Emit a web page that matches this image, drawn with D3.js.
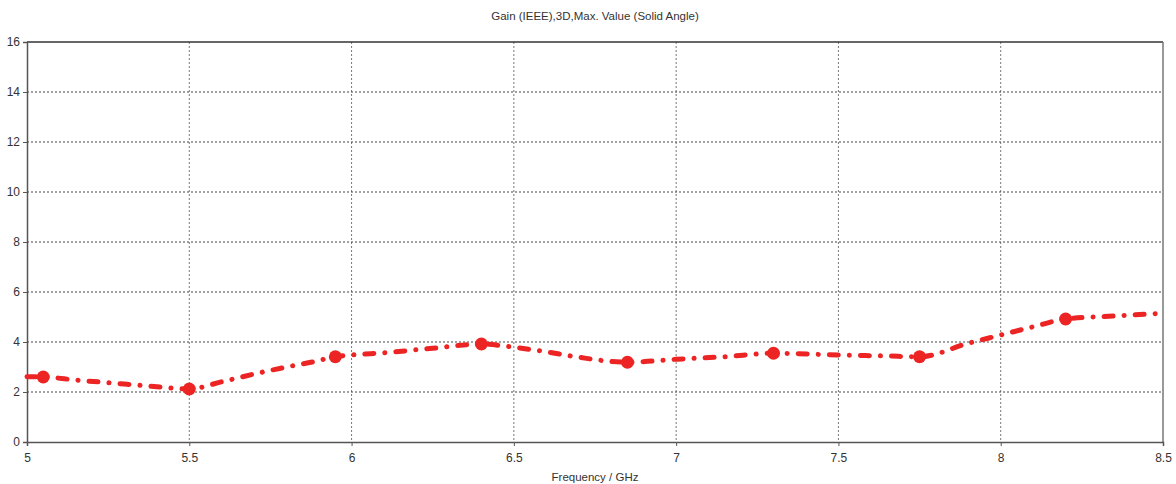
<!DOCTYPE html>
<html lang="en">
<head>
  <meta charset="UTF-8">
  <title>Gain (IEEE),3D,Max. Value (Solid Angle)</title>
  <style>
    body { margin: 0; background: #fff; }
    svg text { font-family: "Liberation Sans", Tahoma, sans-serif; fill: #333; }
  </style>
</head>
<body>
  <div id="chart"></div>

  <script src="https://d3js.org/d3.v7.min.js"></script>
  <script>
    // curve samples
    const freq = [5.0, 5.05, 5.15, 5.3, 5.4, 5.5, 5.6, 5.7, 5.8, 5.88, 5.95, 6.0, 6.1, 6.25, 6.4,
                  6.5, 6.6, 6.7, 6.85, 7.0, 7.15, 7.3, 7.5, 7.65, 7.75, 7.9, 8.0, 8.1, 8.2, 8.35, 8.5];
    const gain = [2.61, 2.6, 2.48, 2.32, 2.21, 2.12, 2.41, 2.72, 3.0, 3.2, 3.41, 3.48, 3.57, 3.75, 3.92,
                  3.79, 3.61, 3.39, 3.19, 3.31, 3.41, 3.55, 3.48, 3.44, 3.41, 3.95, 4.28, 4.61, 4.92, 5.04, 5.15];
    // marker positions
    const markFreq = [5.05, 5.5, 5.95, 6.4, 6.85, 7.3, 7.75, 8.2];
    const markGain = [2.6, 2.12, 3.41, 3.92, 3.19, 3.55, 3.41, 4.92];

    const xTicks = [5, 5.5, 6, 6.5, 7, 7.5, 8, 8.5];
    const yTicks = [0, 2, 4, 6, 8, 10, 12, 14, 16];

    const width = 1176, height = 484;
    const margin = { top: 42, right: 13, bottom: 42, left: 27 };

    const svg = d3.select('#chart').append('svg')
      .attr('width', width)
      .attr('height', height);

    const x = d3.scaleLinear().domain([5, 8.5]).range([margin.left, width - margin.right]);
    const y = d3.scaleLinear().domain([0, 16]).range([height - margin.bottom, margin.top]);

    // grid
    svg.append('g')
      .selectAll('line')
      .data(xTicks.slice(1, -1))
      .join('line')
      .attr('x1', d => x(d)).attr('x2', d => x(d))
      .attr('y1', y(16)).attr('y2', y(0))
      .attr('stroke', '#777').attr('stroke-width', 1).attr('stroke-dasharray', '2,2');

    svg.append('g')
      .selectAll('line')
      .data(yTicks.slice(1, -1))
      .join('line')
      .attr('x1', x(5)).attr('x2', x(8.5))
      .attr('y1', d => y(d)).attr('y2', d => y(d))
      .attr('stroke', '#444').attr('stroke-width', 1).attr('stroke-dasharray', '2,2');

    // frame
    svg.append('line').attr('x1', x(5)).attr('x2', x(8.5)).attr('y1', y(16)).attr('y2', y(16))
      .attr('stroke', '#333').attr('stroke-width', 1.5);
    svg.append('line').attr('x1', x(8.5)).attr('x2', x(8.5)).attr('y1', y(16)).attr('y2', y(0))
      .attr('stroke', '#777').attr('stroke-width', 1.5);

    const xAxis = d3.axisBottom(x).tickValues(xTicks).tickFormat(d3.format('')).tickSize(4).tickPadding(7);
    const yAxis = d3.axisLeft(y).tickValues(yTicks).tickSize(4).tickPadding(3);

    const gx = svg.append('g')
      .attr('transform', `translate(0, ${y(0)})`)
      .call(xAxis);
    const gy = svg.append('g')
      .attr('transform', `translate(${x(5)}, 0)`)
      .call(yAxis);

    [gx, gy].forEach(g => {
      g.select('.domain').attr('stroke', '#555').attr('stroke-width', 1.5);
      g.selectAll('.tick line').attr('stroke', '#555');
      g.selectAll('.tick text').style('font-size', '12px').attr('fill', '#333');
    });

    // curve
    const pts = freq.map((f, i) => [f, gain[i]]);
    const line = d3.line()
      .x(d => x(d[0]))
      .y(d => y(d[1]))
      .curve(d3.curveMonotoneX);

    svg.append('path')
      .datum(pts)
      .attr('d', line)
      .attr('fill', 'none')
      .attr('stroke', '#ec2424')
      .attr('stroke-width', 5)
      .attr('stroke-linecap', 'round')
      .attr('stroke-dasharray', '9,11,0.1,11');

    svg.append('g')
      .selectAll('circle')
      .data(markFreq.map((f, i) => [f, markGain[i]]))
      .join('circle')
      .attr('cx', d => x(d[0]))
      .attr('cy', d => y(d[1]))
      .attr('r', 6.5)
      .attr('fill', '#ec2424');

    // titles
    svg.append('text')
      .attr('x', 595).attr('y', 20)
      .attr('text-anchor', 'middle')
      .style('font-size', '11.5px')
      .text('Gain (IEEE),3D,Max. Value (Solid Angle)');

    svg.append('text')
      .attr('x', 595).attr('y', 481)
      .attr('text-anchor', 'middle')
      .style('font-size', '11.5px')
      .text('Frequency / GHz');
  </script>
</body>
</html>
